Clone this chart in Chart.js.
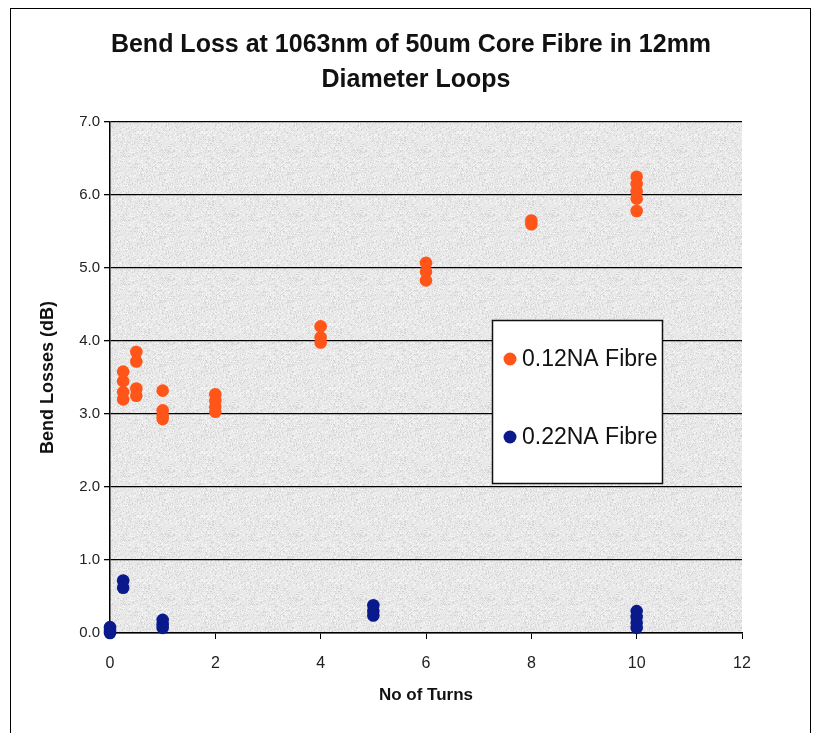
<!DOCTYPE html>
<html>
<head>
<meta charset="utf-8">
<script src="https://cdn.jsdelivr.net/npm/chart.js@4"></script>
<style>
  html, body { margin: 0; padding: 0; background: #fff; }
  canvas { display: block; }
</style>
</head>
<body>
<canvas id="myChart" width="815" height="733"></canvas>
<script>
// data
const turns012 = [0.25, 0.25, 0.25, 0.25, 0.5, 0.5, 0.5, 0.5, 1, 1, 1, 1, 2, 2, 2, 2, 4, 4, 4, 6, 6, 6, 8, 8, 10, 10, 10, 10, 10];
const loss012 = [3.2, 3.3, 3.45, 3.58, 3.85, 3.72, 3.35, 3.25, 3.32, 3.05, 2.98, 2.93, 3.27, 3.18, 3.1, 3.03, 4.2, 4.05, 3.98, 5.07, 4.95, 4.83, 5.65, 5.6, 6.25, 6.15, 6.05, 5.95, 5.78];
const turns022 = [0, 0, 0, 0.25, 0.25, 1, 1, 1, 5, 5, 5, 10, 10, 10, 10];
const loss022 = [0.0, 0.04, 0.08, 0.72, 0.62, 0.18, 0.12, 0.07, 0.38, 0.3, 0.24, 0.3, 0.22, 0.14, 0.07];
const seriesLabels = ['0.12NA Fibre', '0.22NA Fibre'];
const titleLines = ['Bend Loss at 1063nm of 50um Core Fibre in 12mm', 'Diameter Loops'];

const toPoints = (xs, ys) => xs.map((x, i) => ({ x: x, y: ys[i] }));

// speckled grey plot background, like the old spreadsheet texture
const makeTexture = () => {
  const c = document.createElement('canvas');
  c.width = 64; c.height = 64;
  const g = c.getContext('2d');
  g.fillStyle = '#e8e8e8';
  g.fillRect(0, 0, 64, 64);
  for (let yy = 0; yy < 64; yy++) {
    for (let xx = 0; xx < 64; xx++) {
      const h = ((xx * 73856093) ^ (yy * 19349663)) >>> 0;
      const v = h % 7;
      if (v === 0) { g.fillStyle = '#d4d4d4'; g.fillRect(xx, yy, 1, 1); }
      else if (v === 1) { g.fillStyle = '#f6f6f6'; g.fillRect(xx, yy, 1, 1); }
    }
  }
  return c;
};

const plotBackground = {
  id: 'plotBackground',
  beforeDraw(chart) {
    const { ctx, chartArea } = chart;
    ctx.save();
    ctx.fillStyle = ctx.createPattern(makeTexture(), 'repeat');
    ctx.fillRect(chartArea.left, chartArea.top, chartArea.right - chartArea.left, chartArea.bottom - chartArea.top);
    // outer frame
    ctx.strokeStyle = '#000';
    ctx.lineWidth = 1;
    ctx.strokeRect(10.5, 8.5, 800, 760);
    // two line title, centred like the original
    ctx.fillStyle = '#111';
    ctx.font = 'bold 25px "Liberation Sans", Arial, sans-serif';
    ctx.textAlign = 'center';
    ctx.textBaseline = 'middle';
    ctx.fillText(titleLines[0], 411, 45);
    ctx.fillText(titleLines[1], 416, 80);
    ctx.restore();
  }
};

const boxLegend = {
  id: 'boxLegend',
  afterDraw(chart) {
    const ctx = chart.ctx;
    ctx.save();
    ctx.fillStyle = '#fff';
    ctx.fillRect(492, 320, 170, 163);
    ctx.strokeStyle = '#111';
    ctx.lineWidth = 1.5;
    ctx.strokeRect(492.5, 320.5, 170, 163);
    const rows = [359, 437];
    chart.data.datasets.forEach((ds, i) => {
      ctx.beginPath();
      ctx.fillStyle = ds.backgroundColor;
      ctx.arc(510, rows[i], 6.5, 0, Math.PI * 2);
      ctx.fill();
      ctx.fillStyle = '#111';
      ctx.font = '23px "Liberation Sans", Arial, sans-serif';
      ctx.textBaseline = 'middle';
      ctx.textAlign = 'left';
      ctx.fillText(ds.label, 522, rows[i] + 1);
    });
    ctx.restore();
  }
};

const ctx = document.getElementById('myChart').getContext('2d');
const chart = new Chart(ctx, {
  type: 'scatter',
  data: {
    datasets: [
      {
        label: seriesLabels[0],
        data: toPoints(turns012, loss012),
        backgroundColor: '#ff5519',
        borderColor: '#ff5519',
        pointRadius: 6.3,
        pointBorderWidth: 0,
        clip: false
      },
      {
        label: seriesLabels[1],
        data: toPoints(turns022, loss022),
        backgroundColor: '#0a1a8c',
        borderColor: '#0a1a8c',
        pointRadius: 6.3,
        pointBorderWidth: 0,
        clip: false
      }
    ]
  },
  options: {
    responsive: false,
    animation: false,
    layout: { padding: { left: 10, right: 73, top: 122, bottom: 0 } },
    plugins: {
      legend: { display: false },
      tooltip: { enabled: false },
      title: { display: false }
    },
    scales: {
      x: {
        type: 'linear',
        min: 0,
        max: 12,
        ticks: { stepSize: 2, color: '#222', padding: 15, font: { family: '"Liberation Sans", Arial, sans-serif', size: 16 } },
        grid: { drawOnChartArea: false, drawTicks: true, tickLength: 6, color: '#000' },
        border: { display: true, color: '#000', width: 1.5 },
        title: {
          display: true,
          text: 'No of Turns',
          color: '#111',
          font: { family: '"Liberation Sans", Arial, sans-serif', size: 17, weight: 'bold' },
          padding: { top: 0, bottom: 27 }
        },
        afterFit: (scale) => { scale.height = 100; }
      },
      y: {
        type: 'linear',
        min: 0,
        max: 7,
        ticks: {
          stepSize: 1,
          color: '#222',
          padding: 4,
          font: { family: '"Liberation Sans", Arial, sans-serif', size: 15 },
          callback: (v) => v.toFixed(1)
        },
        grid: { color: '#000', lineWidth: 1.3, tickLength: 6 },
        border: { display: true, color: '#000', width: 1.5 },
        title: {
          display: true,
          text: 'Bend Losses (dB)',
          color: '#111',
          font: { family: '"Liberation Sans", Arial, sans-serif', size: 18, weight: 'bold' },
          padding: { top: 27, bottom: 0 }
        },
        afterFit: (scale) => { scale.width = 100; }
      }
    }
  },
  plugins: [plotBackground, boxLegend]
});
</script>
</body>
</html>
